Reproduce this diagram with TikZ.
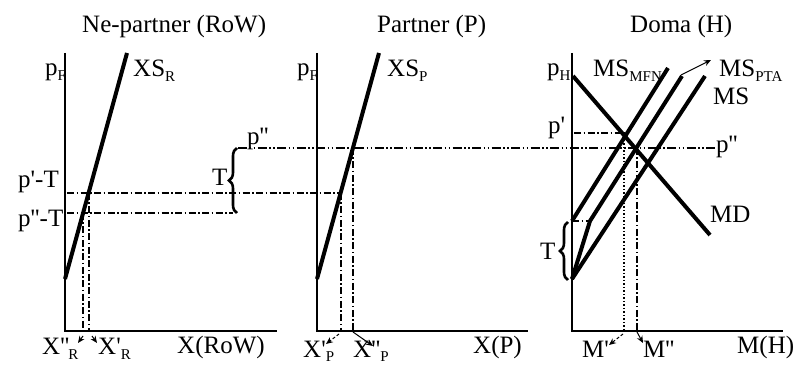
\documentclass[tikz,border=0pt]{standalone}
\usepackage{fontspec}
\newfontfamily\tnr{Liberation Serif}
\usetikzlibrary{arrows.meta,decorations.pathreplacing}
\newcommand\sbs[1]{\raisebox{-5pt}{\fontsize{15}{15}\selectfont #1}}
\begin{document}
\begin{tikzpicture}[x=1pt,y=-1pt,
  lbl/.style={inner sep=0pt,anchor=base west,font=\tnr\fontsize{25}{28}\selectfont},
  axis/.style={line width=2.6pt,line join=miter},
  curve/.style={line width=4pt},
  guide/.style={line width=1.3pt,dash pattern=on 7pt off 2.5pt on 1.5pt off 2.5pt},
  guidedd/.style={line width=1.3pt,dash pattern=on 9pt off 2.5pt on 1.5pt off 2.5pt on 1.5pt off 2.5pt},
  guidedot/.style={line width=1.3pt,dash pattern=on 1.5pt off 2pt},
  brc/.style={line width=2.6pt,decorate,decoration={brace,amplitude=8pt}},
  ptr/.style={-{Stealth[length=7pt,width=6pt]},line width=1pt},
  ptrd/.style={ptr,dash pattern=on 3pt off 2pt}
]
\useasboundingbox (0,0) rectangle (796,374);

% ---------- axes ----------
\coordinate (Y1) at (65,53);  \coordinate (O1) at (65,331);  \coordinate (E1) at (277,331);
\coordinate (Y2) at (317,53); \coordinate (O2) at (317,331); \coordinate (E2) at (528,331);
\coordinate (Y3) at (572,53); \coordinate (O3) at (572,331); \coordinate (E3) at (783,331);
\draw[axis] (Y1) -- (O1) -- (E1);
\draw[axis] (Y2) -- (O2) -- (E2);
\draw[axis] (Y3) -- (O3) -- (E3);

% ---------- curves ----------
\coordinate (xsr0) at (65,279);  \coordinate (xsr1) at (127,53);
\coordinate (xsp0) at (317,279); \coordinate (xsp1) at (379,53);
\draw[curve] (xsr0) -- (xsr1);
\draw[curve] (xsp0) -- (xsp1);

\coordinate (msb) at (572,279);
\coordinate (mfn0) at (572,221); \coordinate (mfn1) at (668,68);
\coordinate (ptak) at (590,221); \coordinate (pta1) at (682,76);
\coordinate (ms1) at (705,76);
\coordinate (md0) at (573,76); \coordinate (md1) at (710,235);
\draw[curve] (mfn0) -- (mfn1);
\draw[curve,line join=round] (msb) -- (ptak) -- (pta1);
\draw[curve] (msb) -- (ms1);
\draw[curve] (md0) -- (md1);

% ---------- guide lines ----------
\coordinate (a1) at (67,193);  \coordinate (a2) at (341,193);
\coordinate (b1) at (67,213);  \coordinate (b2) at (233,213);
\coordinate (c1) at (238,148); \coordinate (c2) at (715,148);
\coordinate (d1) at (574,133); \coordinate (d2) at (625,133);
\draw[guide] (a1) -- (a2);
\draw[guide] (b1) -- (b2);
\draw[guidedd] (c1) -- (c2);
\draw[guide] (d1) -- (d2);
\draw[guide] (mfn0) -- (ptak);

\coordinate (v1t) at (89,193);  \coordinate (v1b) at (89,331);
\coordinate (v2t) at (83,213);  \coordinate (v2b) at (83,331);
\coordinate (v3t) at (341,193); \coordinate (v3b) at (341,331);
\coordinate (v4t) at (353,148); \coordinate (v4b) at (353,331);
\coordinate (v5t) at (624,133); \coordinate (v5b) at (624,331);
\coordinate (v6t) at (637,148); \coordinate (v6b) at (637,331);
\draw[guide] (v1t) -- (v1b);
\draw[guide] (v2t) -- (v2b);
\draw[guide] (v3t) -- (v3b);
\draw[guide] (v4t) -- (v4b);
\draw[guidedot] (v5t) -- (v5b);
\draw[guide] (v6t) -- (v6b);

% ---------- braces ----------
\coordinate (br1a) at (237,213); \coordinate (br1b) at (237,148);
\coordinate (br2a) at (568,280); \coordinate (br2b) at (568,222);
\draw[brc] (br1a) -- (br1b);
\draw[brc] (br2a) -- (br2b);

% ---------- titles ----------
\node[lbl] (t1) at (82,33) {Ne-partner (RoW)};
\node[lbl] (t2) at (377,33) {Partner (P)};
\node[lbl] (t3) at (630,33) {Doma (H)};

% ---------- labels ----------
\node[lbl] (pf1) at (45,76) {p\sbs{F}};
\node[lbl] (xsr) at (133,77) {XS\sbs{R}};
\node[lbl] (pf2) at (297,76) {p\sbs{F}};
\node[lbl] (xsp) at (387,77) {XS\sbs{P}};
\node[lbl] (ph) at (547,76) {p\sbs{H}};
\node[lbl] (lmfn) at (593,77) {MS\sbs{MFN}};
\node[lbl] (lpta) at (719,77) {MS\sbs{PTA}};
\node[lbl] (lms) at (713,105) {MS};
\node[lbl] (lmd) at (710,223) {MD};

\node[lbl] (lpT) at (18,188) {p'-T};
\node[lbl] (lppT) at (18,227) {p''-T};
\node[lbl] (lT1) at (212,186) {T};
\node[lbl] (lpp1) at (247,145) {p''};
\node[lbl] (lp3) at (548,134) {p'};
\node[lbl] (lpp3) at (716,153) {p''};
\node[lbl] (lT3) at (540,260) {T};

\node[lbl] (xppr) at (42,355) {X''\kern-1pt\sbs{R}};
\node[lbl] (xpr) at (98,355) {X'\sbs{R}};
\node[lbl] (xpp) at (303,357) {X'\sbs{P}};
\node[lbl] (xppp) at (353,357) {X''\sbs{P}};
\node[lbl] (mp) at (582,357) {M'};
\node[lbl] (mpp) at (643,357) {M''};
\node[lbl] (xrow) at (177,354) {X(RoW)};
\node[lbl] (xp) at (473,354) {X(P)};
\node[lbl] (mh) at (737,353) {M(H)};

% ---------- pointer arrows ----------
\coordinate (r1s) at (83,336); \coordinate (r1e) at (78,343);
\coordinate (r2s) at (92,336); \coordinate (r2e) at (97,343);
\coordinate (p1s) at (339,334); \coordinate (p1e) at (326,344);
\coordinate (p2s) at (353,332); \coordinate (p2e) at (373,346);
\coordinate (m1s) at (623,334); \coordinate (m1e) at (609,345);
\coordinate (m2s) at (637,332); \coordinate (m2e) at (643,343);
\coordinate (k1s) at (681,75);  \coordinate (k1e) at (711,60);
\draw[ptr] (r1s) -- (r1e);
\draw[ptr] (r2s) -- (r2e);
\draw[ptrd] (p1s) -- (p1e);
\draw[ptr] (p2s) -- (p2e);
\draw[ptrd] (m1s) -- (m1e);
\draw[ptr] (m2s) -- (m2e);
\draw[ptr] (k1s) -- (k1e);
\end{tikzpicture}
\end{document}
